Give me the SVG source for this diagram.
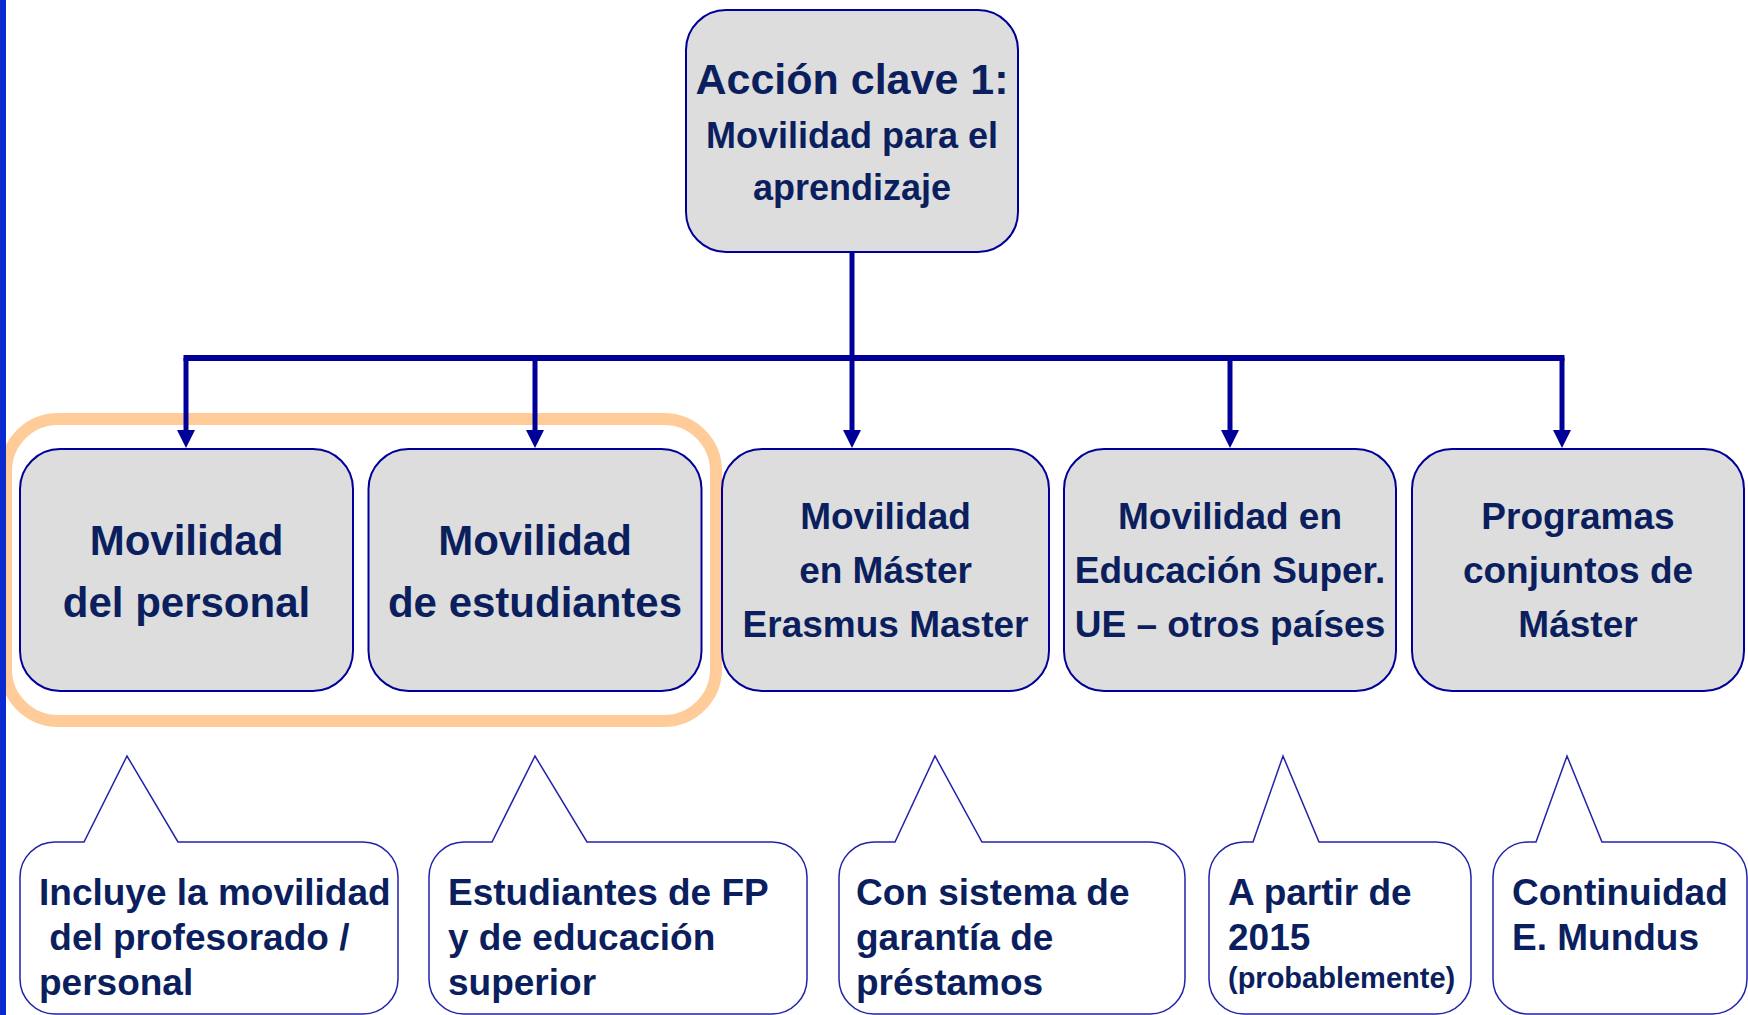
<svg xmlns="http://www.w3.org/2000/svg" width="1748" height="1015" viewBox="0 0 1748 1015">
<style>
.box{fill:#dddddd;stroke:#000099;stroke-width:2}
.call{fill:#ffffff;stroke:#2222aa;stroke-width:1.5}
.t{font-family:"Liberation Sans",Arial,Helvetica,sans-serif;font-weight:bold;fill:#0b1f5e}
.c{text-anchor:middle}
.conn{stroke:#000099;fill:none}
</style>
<defs>
<marker id="arr" markerUnits="userSpaceOnUse" markerWidth="18" markerHeight="18" viewBox="0 0 18 18" refX="6" refY="9" orient="auto">
<path d="M0,0 L18,9 L0,18 Z" fill="#000099"/>
</marker>
</defs>
<rect width="1748" height="1015" fill="#ffffff"/>
<rect id="highlight" x="6" y="419" width="710" height="302" rx="52" fill="none" stroke="#ffcc99" stroke-width="12"/>
<g id="connectors">
<line class="conn" x1="852" y1="252" x2="852" y2="358" stroke-width="5"/>
<line class="conn" x1="183.5" y1="358" x2="1564.5" y2="358" stroke-width="6"/>
<line class="conn" x1="186" y1="358" x2="186" y2="436" stroke-width="5" marker-end="url(#arr)"/>
<line class="conn" x1="535" y1="358" x2="535" y2="436" stroke-width="5" marker-end="url(#arr)"/>
<line class="conn" x1="852" y1="358" x2="852" y2="436" stroke-width="5" marker-end="url(#arr)"/>
<line class="conn" x1="1230" y1="358" x2="1230" y2="436" stroke-width="5" marker-end="url(#arr)"/>
<line class="conn" x1="1562" y1="358" x2="1562" y2="436" stroke-width="5" marker-end="url(#arr)"/>
</g>
<g id="top">
<rect class="box" x="686" y="10" width="332" height="242" rx="40"/>
<text class="t c" x="852" y="94" font-size="43">Acción clave 1:</text>
<text class="t c" x="852" y="148" font-size="36">Movilidad para el</text>
<text class="t c" x="852" y="200" font-size="36">aprendizaje</text>
</g>
<g id="n1">
<rect class="box" x="20" y="449" width="333" height="242" rx="40"/>
<text class="t c" x="186.5" y="555" font-size="42">Movilidad</text>
<text class="t c" x="186.5" y="617" font-size="42">del personal</text>
</g>
<g id="n2">
<rect class="box" x="368.5" y="449" width="333" height="242" rx="40"/>
<text class="t c" x="535" y="555" font-size="42">Movilidad</text>
<text class="t c" x="535" y="617" font-size="42">de estudiantes</text>
</g>
<g id="n3">
<rect class="box" x="722" y="449" width="327" height="242" rx="40"/>
<text class="t c" x="885.5" y="529" font-size="37">Movilidad</text>
<text class="t c" x="885.5" y="583" font-size="37">en Máster</text>
<text class="t c" x="885.5" y="637" font-size="37">Erasmus Master</text>
</g>
<g id="n4">
<rect class="box" x="1064" y="449" width="332" height="242" rx="40"/>
<text class="t c" x="1230" y="529" font-size="37">Movilidad en</text>
<text class="t c" x="1230" y="583" font-size="37">Educación Super.</text>
<text class="t c" x="1230" y="637" font-size="37">UE – otros países</text>
</g>
<g id="n5">
<rect class="box" x="1412" y="449" width="332" height="242" rx="40"/>
<text class="t c" x="1578" y="529" font-size="37">Programas</text>
<text class="t c" x="1578" y="583" font-size="37">conjuntos de</text>
<text class="t c" x="1578" y="637" font-size="37">Máster</text>
</g>
<g id="c1">
<path class="call" d="M55,842 H84 L127,756 L178,842 H363 A35,35 0 0 1 398,877 V979 A35,35 0 0 1 363,1014 H55 A35,35 0 0 1 20,979 V877 A35,35 0 0 1 55,842 Z"/>
<text class="t" x="39" y="905" font-size="37">Incluye la movilidad</text>
<text class="t" x="39" y="950" font-size="37" xml:space="preserve"> del profesorado /</text>
<text class="t" x="39" y="995" font-size="37">personal</text>
</g>
<g id="c2">
<path class="call" d="M464,842 H492 L535,756 L587,842 H772 A35,35 0 0 1 807,877 V979 A35,35 0 0 1 772,1014 H464 A35,35 0 0 1 429,979 V877 A35,35 0 0 1 464,842 Z"/>
<text class="t" x="448" y="905" font-size="37">Estudiantes de FP</text>
<text class="t" x="448" y="950" font-size="37">y de educación</text>
<text class="t" x="448" y="995" font-size="37">superior</text>
</g>
<g id="c3">
<path class="call" d="M874,842 H895 L935,756 L982,842 H1150 A35,35 0 0 1 1185,877 V979 A35,35 0 0 1 1150,1014 H874 A35,35 0 0 1 839,979 V877 A35,35 0 0 1 874,842 Z"/>
<text class="t" x="856" y="905" font-size="37">Con sistema de</text>
<text class="t" x="856" y="950" font-size="37">garantía de</text>
<text class="t" x="856" y="995" font-size="37">préstamos</text>
</g>
<g id="c4">
<path class="call" d="M1244,842 H1253 L1283,756 L1319,842 H1436 A35,35 0 0 1 1471,877 V979 A35,35 0 0 1 1436,1014 H1244 A35,35 0 0 1 1209,979 V877 A35,35 0 0 1 1244,842 Z"/>
<text class="t" x="1228" y="905" font-size="37">A partir de</text>
<text class="t" x="1228" y="950" font-size="37">2015</text>
<text class="t" x="1228" y="988" font-size="29">(probablemente)</text>
</g>
<g id="c5">
<path class="call" d="M1528,842 H1536 L1567,756 L1602,842 H1712 A35,35 0 0 1 1747,877 V979 A35,35 0 0 1 1712,1014 H1528 A35,35 0 0 1 1493,979 V877 A35,35 0 0 1 1528,842 Z"/>
<text class="t" x="1512" y="905" font-size="37">Continuidad</text>
<text class="t" x="1512" y="950" font-size="37">E. Mundus</text>
</g>
<rect id="leftbar" x="0" y="0" width="6" height="1015" fill="#0a2ad0"/>
</svg>
